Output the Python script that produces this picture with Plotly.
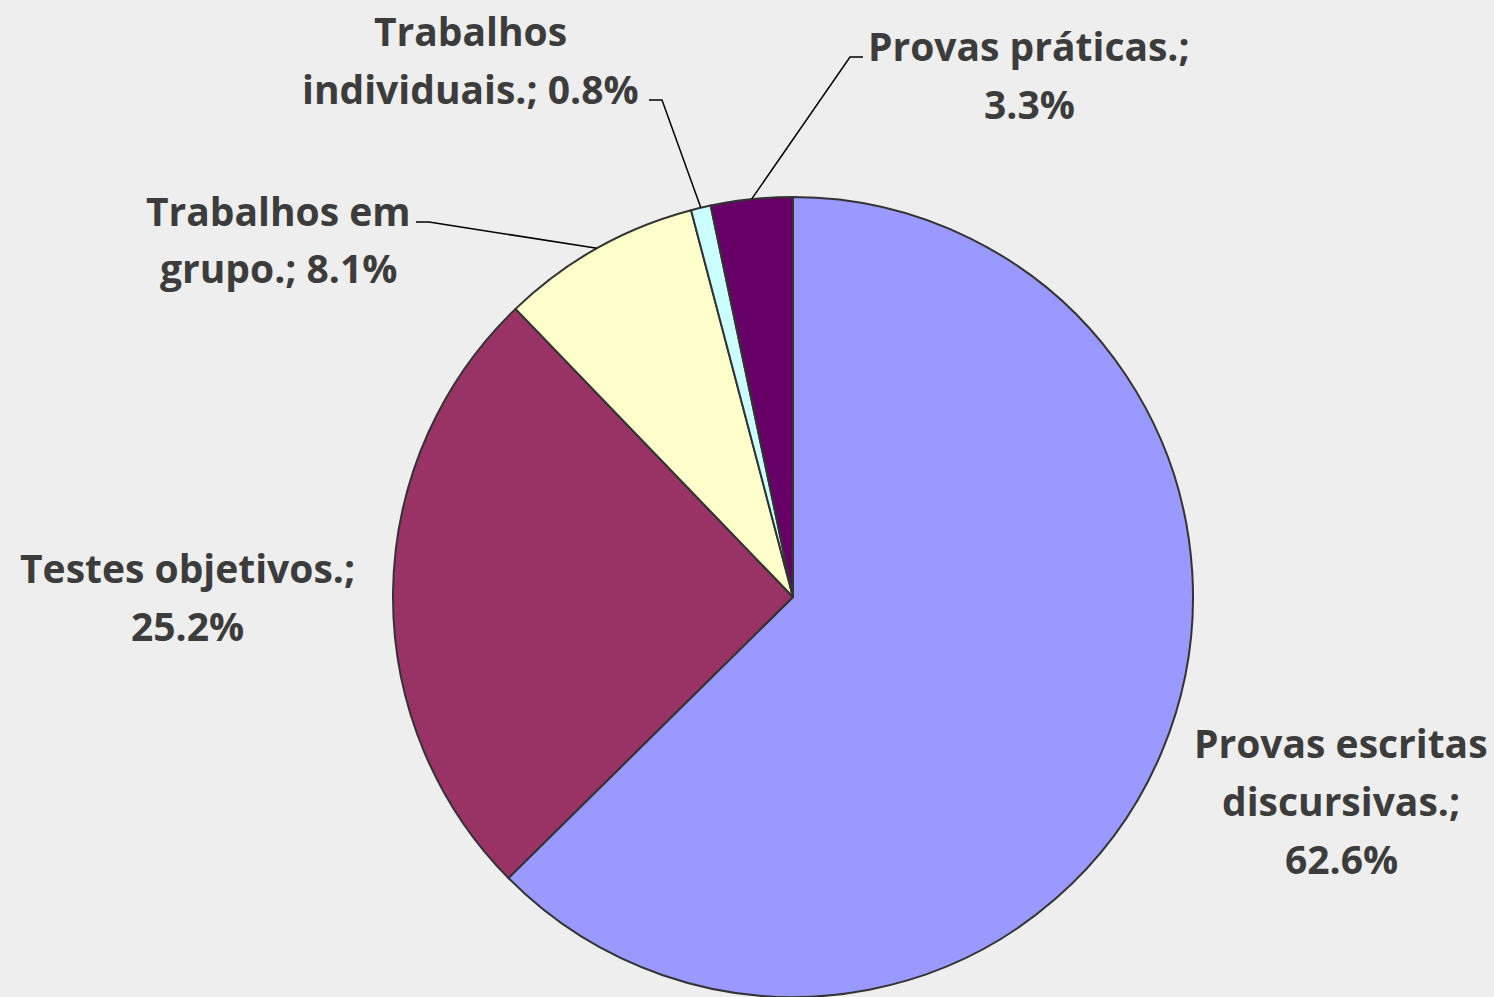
import math
import plotly.graph_objects as go

# ---- data ----
categories = ["Provas escritas discursivas.", "Testes objetivos.", "Trabalhos em grupo.",
              "Trabalhos individuais.", "Provas práticas."]
values = [62.6, 25.2, 8.1, 0.8, 3.3]
colors = ["#9999FF", "#993366", "#FFFFCC", "#CCFFFF", "#660066"]
# words per line for each label
wrap_words = [[2, 1, 1], [2, 1], [2, 2], [1, 2], [2, 1]]

# ---- layout constants (pixels) ----
W, H = 1494, 997
CX, CY, R = 793, 597, 400
# label first-line centre (x, y) and line step
label_pos = [(1341, 742), (187, 567), (278, 210), (471, 30), (1029, 45)]
LINE_STEP = 58
# leader stubs: (text-side x, bend x, y) ; None means no leader
leader = [None, None, (416, 429, 222), (649, 662, 100), (863, 850, 57)]

FONT = "Open Sans"
FSIZE = 39
TXT = "#3C3C3C"


def px(x):
    return x / W


def py(y):
    return 1 - y / H


fig = go.Figure(go.Pie(
    labels=categories, values=values, sort=False, direction="clockwise", rotation=0,
    marker=dict(colors=colors, line=dict(color="#333333", width=2)),
    textinfo="none", hoverinfo="label+percent", showlegend=False,
    domain=dict(x=[(CX - R) / W, (CX + R) / W], y=[(H - CY - R) / H, (H - CY + R) / H]),
))

annotations = []
shapes = []
total = sum(values)
cum = 0.0
for i, (c, v) in enumerate(zip(categories, values)):
    words = f"{c}; {v:.1f}%".split(" ")
    lines = []
    k = 0
    for n in wrap_words[i]:
        lines.append(" ".join(words[k:k + n]))
        k += n
    lx, ly = label_pos[i]
    for j, t in enumerate(lines):
        annotations.append(dict(
            x=px(lx), y=py(ly + j * LINE_STEP), xref="paper", yref="paper",
            text=t, showarrow=False, xanchor="center", yanchor="middle",
            font=dict(family=FONT, size=FSIZE, color=TXT, weight="bold"),
        ))
    mid = (cum + v / 2) / total * 2 * math.pi
    cum += v
    if leader[i] is not None:
        x0, x1, yy = leader[i]
        ex = CX + R * math.sin(mid)
        ey = CY - R * math.cos(mid)
        shapes.append(dict(type="path", xref="paper", yref="paper",
                           path=f"M {px(x0)},{py(yy)} L {px(x1)},{py(yy)} L {px(ex)},{py(ey)}",
                           line=dict(color="#000000", width=1.5)))

fig.update_layout(
    width=W, height=H, margin=dict(l=0, r=0, t=0, b=0),
    paper_bgcolor="#EEEEEE", plot_bgcolor="#EEEEEE",
    annotations=annotations, shapes=shapes,
)
fig.write_html("out.html", config={"displayModeBar": False},
               post_script="document.body.style.margin='0';document.body.style.background='#EEEEEE';")
